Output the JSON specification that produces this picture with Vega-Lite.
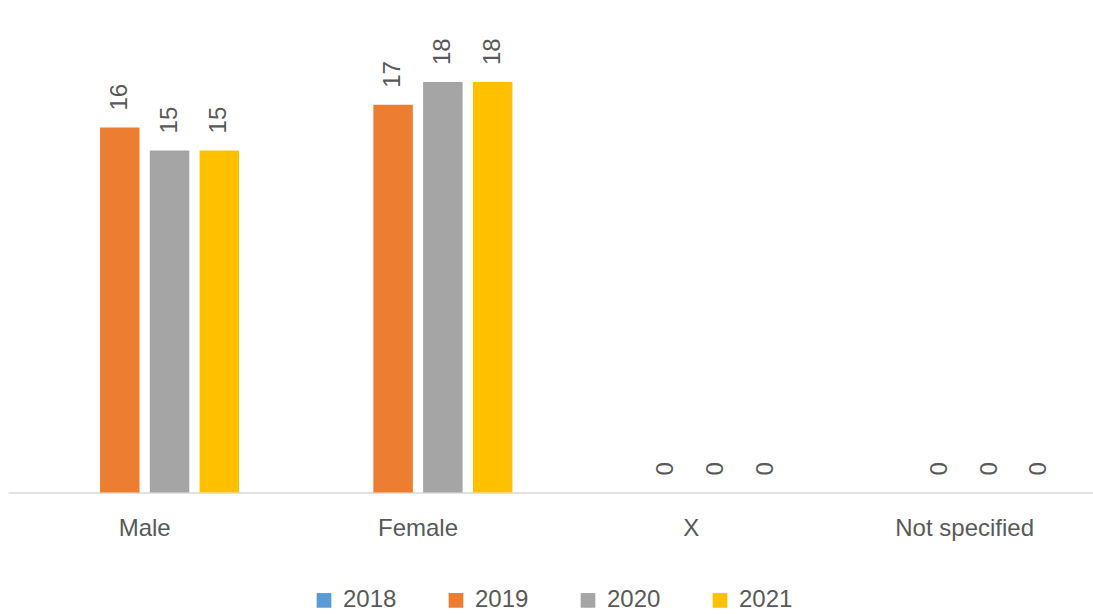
{
  "$schema": "https://vega.github.io/schema/vega-lite/v6.json",
  "width": 1085,
  "height": 456,
  "autosize": {"type": "none"},
  "padding": {"left": 8, "top": 36.4, "right": 0, "bottom": 121.6},
  "background": "white",
  "config": {
    "view": {"stroke": null},
    "font": "Liberation Sans",
    "text": {"font": "Liberation Sans"}
  },
  "data": {
    "values": [
      {"category": "Male", "year": "2019", "value": 16},
      {"category": "Male", "year": "2020", "value": 15},
      {"category": "Male", "year": "2021", "value": 15},
      {"category": "Female", "year": "2019", "value": 17},
      {"category": "Female", "year": "2020", "value": 18},
      {"category": "Female", "year": "2021", "value": 18},
      {"category": "X", "year": "2019", "value": 0},
      {"category": "X", "year": "2020", "value": 0},
      {"category": "X", "year": "2021", "value": 0},
      {"category": "Not specified", "year": "2019", "value": 0},
      {"category": "Not specified", "year": "2020", "value": 0},
      {"category": "Not specified", "year": "2021", "value": 0}
    ]
  },
  "encoding": {
    "x": {
      "field": "category",
      "type": "nominal",
      "sort": ["Male", "Female", "X", "Not specified"],
      "scale": {"paddingInner": 0, "paddingOuter": 0, "range": [0, 1093.3]},
      "axis": {
        "title": null,
        "labelAngle": 0,
        "labelFontSize": 24,
        "labelColor": "#595959",
        "labelPadding": 24,
        "ticks": false,
        "tickSize": 0,
        "domainColor": "#D9D9D9",
        "domainWidth": 1.5,
        "grid": false
      }
    },
    "xOffset": {
      "field": "year",
      "type": "nominal",
      "scale": {"domain": ["2018", "2019", "2020", "2021"], "paddingInner": 0.207, "paddingOuter": 0.848}
    },
    "y": {
      "field": "value",
      "type": "quantitative",
      "scale": {"domain": [0, 20], "nice": false},
      "axis": null
    }
  },
  "layer": [
    {
      "mark": {"type": "bar"},
      "encoding": {
        "color": {
          "field": "year",
          "type": "nominal",
          "scale": {
            "domain": ["2018", "2019", "2020", "2021"],
            "range": ["#5B9BD5", "#ED7D31", "#A5A5A5", "#FFC000"]
          },
          "legend": {
            "title": null,
            "orient": "none",
            "legendX": 304,
            "legendY": 552,
            "direction": "horizontal",
            "columns": 4,
            "symbolType": "square",
            "symbolSize": 216,
            "symbolStrokeWidth": 0,
            "symbolOpacity": 1,
            "labelFontSize": 24,
            "labelColor": "#595959",
            "labelOffset": 7,
            "columnPadding": 47,
            "padding": 0
          }
        }
      }
    },
    {
      "mark": {"type": "text", "angle": 270, "align": "left", "baseline": "middle", "dx": 17, "fontSize": 24, "color": "#595959"},
      "encoding": {
        "text": {"field": "value", "type": "quantitative"}
      }
    }
  ]
}
